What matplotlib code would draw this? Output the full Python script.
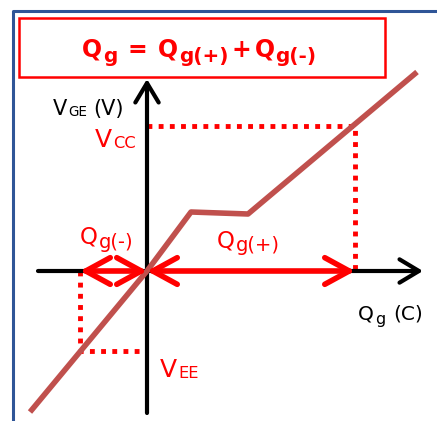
import matplotlib.pyplot as plt
from matplotlib.transforms import IdentityTransform

# charge / voltage (origin at the axis crossing)
curve_q = [-117, 0, 44, 101, 270]
curve_v = [-141, 0, 59, 57, 199]
v_cc = 145
v_ee = -80
qg_plus = 208
qg_minus = -67

red = '#FF0000'
brown = '#C0504D'
blue = '#2F5597'

plt.rcParams['font.family'] = ['DejaVu Sans']

fig = plt.figure(figsize=(4.37, 4.21), dpi=100)
ax = fig.add_axes([0, 0, 1, 1])
ax.set_xlim(-147, 290)
ax.set_ylim(-150, 271)
ax.axis('off')
rend = fig.canvas.get_renderer()


def rich_label(q, v, pieces, size, color='black', weight='normal'):
    # pieces: (text, scale, drop in px, gap before in px)
    px, py = ax.transData.transform((q, v))
    for txt, scale, drop, gap in pieces:
        px += gap
        t = ax.text(px, py - drop, txt, transform=IdentityTransform(), fontsize=size * scale,
                    color=color, fontweight=weight, ha='left', va='baseline')
        px = t.get_window_extent(rend).x1


# frame
ax.plot([-134, -134, 290], [-150, 260, 260], color=blue, lw=2.2, clip_on=False)

# title box
ax.add_patch(plt.Rectangle((-128, 194), 366, 59, fill=False, ec=red, lw=1.8))
rich_label(-65, 214, [('Q', 1, 0, 0), ('g', 0.85, 5, 1), ('=', 1, 0, 10), ('Q', 1, 0, 11),
                      ('g(+)', 0.85, 5, 1), ('+', 1, 0, 3), ('Q', 1, 0, 3), ('g(-)', 0.85, 5, 1)],
           17, red, 'bold')

# dotted guides
ax.plot([0, qg_plus, qg_plus], [v_cc, v_cc, 0], color=red, lw=3.5, ls=(0, (1, 1.3)), zorder=2)
ax.plot([qg_minus, qg_minus, 0], [0, v_ee, v_ee], color=red, lw=3.5, ls=(0, (1, 1.3)), zorder=2)

# axes
ax.annotate('', xy=(0, 192), xytext=(0, -142),
            arrowprops=dict(arrowstyle='->,head_length=1.0,head_width=0.6', lw=3, color='black',
                            shrinkA=0, shrinkB=0, mutation_scale=14))
ax.annotate('', xy=(276, 0), xytext=(-109, 0),
            arrowprops=dict(arrowstyle='->,head_length=1.0,head_width=0.6', lw=3, color='black',
                            shrinkA=0, shrinkB=0, mutation_scale=14))

# curve
ax.plot(curve_q, curve_v, color=brown, lw=4, solid_capstyle='butt', zorder=3)

# charge arrows
for q0, q1 in [(0, qg_plus), (qg_minus, 0)]:
    ax.annotate('', xy=(q1, 0), xytext=(q0, 0),
                arrowprops=dict(arrowstyle='<->,head_length=1.1,head_width=0.6', lw=4, color=red,
                                shrinkA=0, shrinkB=0, mutation_scale=16, capstyle='round'),
                zorder=4)

# labels
rich_label(-94, 156, [('V', 1, 0, 0), ('GE', 0.65, 1, 1), ('(V)', 1, 0, 6)], 15)
rich_label(-52, 124, [('V', 1, 0, 0), ('CC', 0.65, 1, 1)], 18, red)
rich_label(-67, 27, [('Q', 1, 0, 0), ('g(-)', 0.85, 4, 1)], 16.5, red)
rich_label(70, 24, [('Q', 1, 0, 0), ('g(+)', 0.85, 4, 1)], 16.5, red)
rich_label(211, -49, [('Q', 1, 0, 0), ('g', 0.8, 4, 1), ('(C)', 1, 0, 8)], 14.5)
rich_label(13, -106, [('V', 1, 0, 0), ('EE', 0.65, 1, 1)], 18, red)

fig.savefig('out.png', dpi=100)
